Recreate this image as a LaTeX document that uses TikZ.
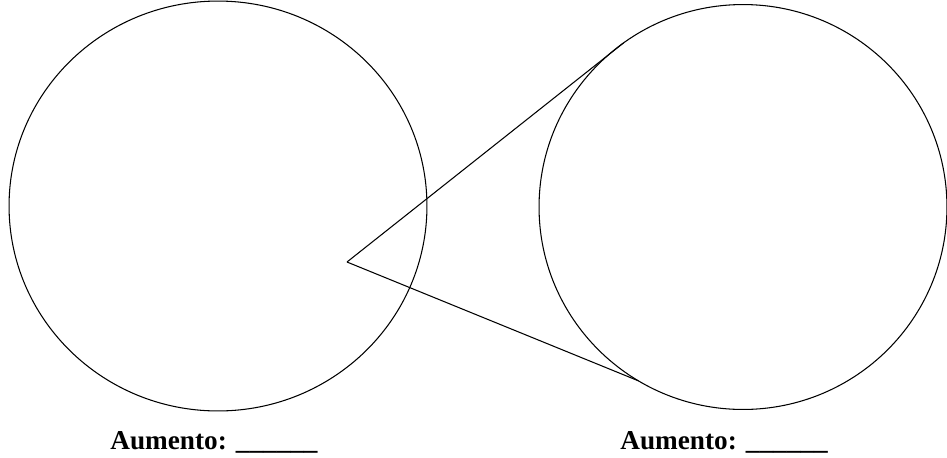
\documentclass[tikz,border=0pt]{standalone}
\usepackage{fontspec}
\setmainfont{Liberation Serif}
\usetikzlibrary{shapes.geometric}

\begin{document}
\begin{tikzpicture}[
    x=0.02cm, y=-0.02cm,
    field/.style={
        draw,
        ellipse,
        inner sep=0pt,
        outer sep=0pt,
        line width=0.6pt
    },
    label/.style={
        font=\fontsize{15.5}{18}\selectfont\bfseries,
        anchor=base,
        inner sep=0pt
    },
    ray/.style={line width=0.6pt}
]
\useasboundingbox (0,0) rectangle (947,457);

\node (left) [field, minimum width=8.36cm, minimum height=8.2cm] at (218,206) {};
\node (right) [field, minimum width=8.16cm, minimum height=8.1cm] at (743,207) {};

\coordinate (apex) at (347,262);

\draw [ray] (apex) -- (right.126);
\draw [ray] (apex) -- (right.239.4);

\node (leftlabel) [label] at (214,449) {Aumento: \_\_\_\_\_\_};
\node (rightlabel) [label] at (724,449) {Aumento: \_\_\_\_\_\_};

\end{tikzpicture}
\end{document}
